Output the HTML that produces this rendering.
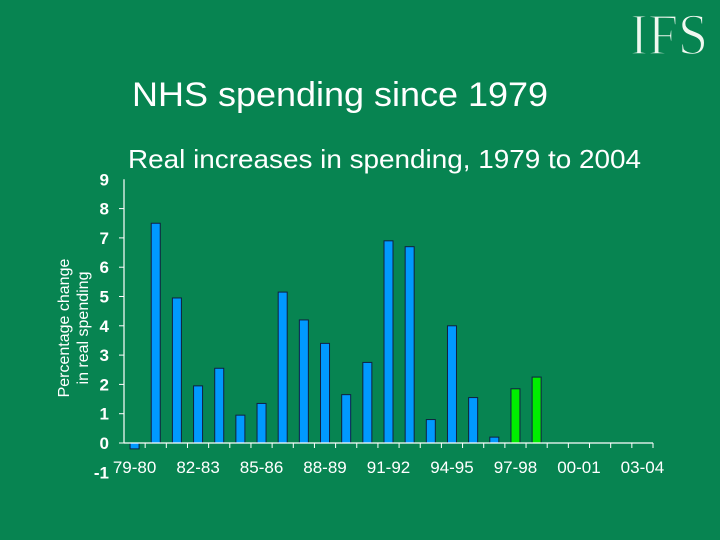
<!DOCTYPE html>
<html><head><meta charset="utf-8"><style>
html,body{margin:0;padding:0;background:#078451;}
svg{display:block;font-family:"Liberation Sans",Arial,sans-serif;}
</style></head><body>
<svg width="720" height="540" viewBox="0 0 720 540">
<rect width="720" height="540" fill="#078451"/>
<text x="669" y="54" fill="#f0f8f0" font-family="Liberation Serif,serif" font-size="58" text-anchor="middle" textLength="78" lengthAdjust="spacingAndGlyphs" stroke="#078451" stroke-width="1.5">IFS</text>
<text x="132" y="106" fill="#fff" font-size="34" textLength="416" lengthAdjust="spacingAndGlyphs">NHS spending since 1979</text>
<text x="128" y="168" fill="#fff" font-size="26" textLength="513" lengthAdjust="spacingAndGlyphs">Real increases in spending, 1979 to 2004</text>
<text transform="translate(69,328) rotate(-90)" fill="#fff" font-size="16" text-anchor="middle">Percentage change</text>
<text transform="translate(88,328) rotate(-90)" fill="#fff" font-size="16" text-anchor="middle">in real spending</text>
<g id="plot"></g>
</svg>
<script>
const categories=["79-80","80-81","81-82","82-83","83-84","84-85","85-86","86-87","87-88","88-89","89-90","90-91","91-92","92-93","93-94","94-95","95-96","96-97","97-98","98-99","99-00","00-01","01-02","02-03","03-04"];
const values=[-0.2,7.5,4.95,1.95,2.55,0.95,1.35,5.15,4.2,3.4,1.65,2.75,6.9,6.7,0.8,4.0,1.55,0.2,1.85,2.25,null,null,null,null,null];
const projected=[false,false,false,false,false,false,false,false,false,false,false,false,false,false,false,false,false,false,true,true,false,false,false,false,false];
const yTicks=[-1,0,1,2,3,4,5,6,7,8,9];
const xLabelEvery=3;
const NS="http://www.w3.org/2000/svg";
const g=document.getElementById('plot');
const x0=124,x1=653,y0val=443,unit=29.3;
const step=(x1-x0)/categories.length;
const Y=v=>y0val-v*unit;
const X=i=>x0+step*(i+0.5);
function el(t,a){const e=document.createElementNS(NS,t);for(const k in a)e.setAttribute(k,a[k]);g.appendChild(e);return e;}
let ax=el('line',{x1:x0,x2:x0,y1:Y(9),y2:Y(0),stroke:'#fff','stroke-width':1.2});


yTicks.forEach(v=>{
  if(v>=0&&v<9){const t=el('line',{x1:x0-5,x2:x0,y1:Y(v),y2:Y(v),stroke:'#fff'});
  
  }
  const l=el('text',{x:109,y:Y(v)+6,fill:'#fff','font-size':17,'font-weight':'bold','text-anchor':'end'});
  l.textContent=v;
  
  
});
values.forEach((v,i)=>{
  if(v===null)return;
  const top=Math.min(Y(v),Y(0)),h=Math.abs(Y(v)-Y(0));
  const r=el('rect',{x:X(i)-4.5,y:top,width:9,height:h,fill:projected[i]?'#00ee00':'#0099ff',stroke:'#102040','stroke-width':1});
  
  
});
let xa=el('line',{x1:x0,x2:x1,y1:Y(0),y2:Y(0),stroke:'#fff','stroke-width':1.2});


for(let i=1;i<=categories.length;i++){
  const t=el('line',{x1:x0+step*i,x2:x0+step*i,y1:Y(0),y2:Y(0)+5,stroke:'#fff'});
  
  
}
categories.forEach((c,i)=>{
  if(i%xLabelEvery!==0)return;
  const l=el('text',{x:X(i),y:Y(0)+30,fill:'#fff','font-size':17,'text-anchor':'middle'});
  l.textContent=c;
  
  
});
</script>
</body></html>
